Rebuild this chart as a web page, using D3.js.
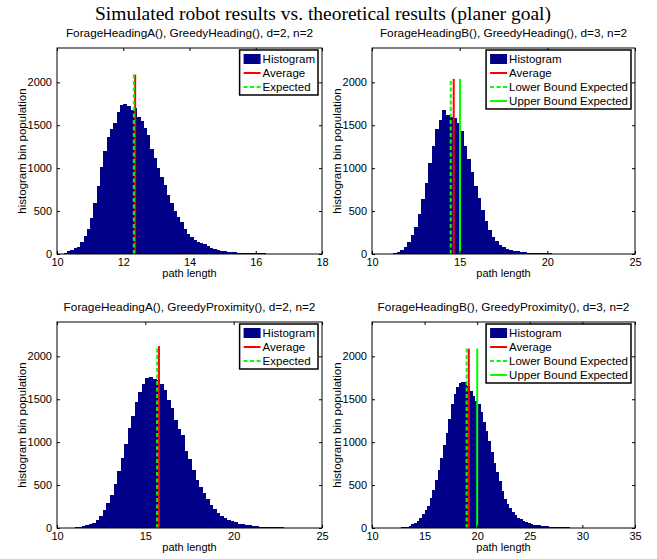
<!DOCTYPE html>
<html>
<head>
<meta charset="utf-8">
<script src="https://cdn.jsdelivr.net/npm/d3@7"></script>
<style>
  body { margin: 0; background: #fff; }
  svg { display: block; }
  text { font-family: "Liberation Sans", Arial, sans-serif; fill: #000; }
</style>
</head>
<body>
<svg id="fig" width="657" height="559"></svg>
<script>
// histogram bin counts, one array per panel
var p1Counts = [0,2,10,30,50,65,86,144,215,295, 420,595,790,1010,1200,1360,1460,1530,1650,1735,
  1745,1725,1675,1705,1595,1550,1470,1390,1220,1120, 1000,900,800,690,590,500,430,370,290,235,
  195,160,142,128,112,95,72,55,45,38, 33,28,24,20,17,15,13,12,10,9, 8,7,6,5,5,4,4,3,3,2];
var p1Start = 10.0, p1Step = 0.1;

var p2Counts = [2,10,18,42,80, 145,225,320,465,640, 830,1060,1260,1460,1560, 1680,1625,1600,1580,1530,
  1430,1260,1110,950,790, 650,510,390,275,195, 150,110,78,62,50, 38,30,23,18,14, 12,10,9,8,7, 6,4,2];
var p2Start = 11.0, p2Step = 0.2;

var p3Counts = [8,15,23,32,43, 62,95,140,210,290, 390,515,660,820,975, 1160,1300,1470,1590,1680,
  1745,1760,1740,1720,1680, 1610,1490,1400,1260,1150, 1080,900,800,680,565, 480,405,335,270,222,
  180,140,112,95,85, 68,52,45,38,32, 26,21,17,13,11, 9,8,7,6,5, 4,4,3,3,2, 2,1];
var p3Start = 11.0, p3Step = 0.2;

var p4Counts = [5,8,12,17,25,45,62,85, 120,160,210,262,345,445,560,670, 815,965,1110,1270,1440,1560,1640,1690,
  1705,1700,1660,1600,1540,1480,1440,1350, 1240,1130,1010,880,760,650,545,435, 340,280,230,185,148,122,100,82,
  66,55,46,40,35,31,27,24, 20,17,15,13,12,10,8,7, 6,5,4,3,3,2,2,1];
var p4Start = 12.5, p4Step = 0.25;

// vertical marker lines: x position and top value
var p1Lines = [{name: "Average", x: 12.36, top: 2090}, {name: "Expected", x: 12.32, top: 2090}];
var p2Lines = [{name: "Average", x: 14.66, top: 2040}, {name: "Lower Bound Expected", x: 14.49, top: 2040},
               {name: "Upper Bound Expected", x: 15.02, top: 2040}];
var p3Lines = [{name: "Average", x: 15.77, top: 2120}, {name: "Expected", x: 15.67, top: 2120}];
var p4Lines = [{name: "Average", x: 19.2, top: 2090}, {name: "Lower Bound Expected", x: 19.0, top: 2090},
               {name: "Upper Bound Expected", x: 20.0, top: 2090}];

var titles = ["ForageHeadingA(), GreedyHeading(), d=2, n=2",
              "ForageHeadingB(), GreedyHeading(), d=3, n=2",
              "ForageHeadingA(), GreedyProximity(), d=2, n=2",
              "ForageHeadingB(), GreedyProximity(), d=3, n=2"];
var xDomains = [[10, 18], [10, 25], [10, 25], [10, 35]];
var xTicks = [[10, 12, 14, 16, 18], [10, 15, 20, 25], [10, 15, 20, 25], [10, 15, 20, 25, 30, 35]];
var yTicks = [0, 500, 1000, 1500, 2000];
var yMax = 2400;

var navy = "#000088";
var styles = {
  "Average": {stroke: "#ff0000", dash: null},
  "Expected": {stroke: "#00ff00", dash: "4,2.5"},
  "Lower Bound Expected": {stroke: "#00ff00", dash: "4,2.5"},
  "Upper Bound Expected": {stroke: "#00ff00", dash: null}
};

var svg = d3.select("#fig");

svg.append("text")
  .attr("x", 323).attr("y", 20)
  .attr("text-anchor", "middle")
  .style("font-family", '"Liberation Serif", "Times New Roman", serif')
  .style("font-size", "19.5px")
  .text("Simulated robot results vs. theoretical results (planer goal)");

var panel = function(k, counts, start, step, lines, box) {
  var g = svg.append("g");
  var x = d3.scaleLinear().domain(xDomains[k]).range([box.l, box.r]);
  var y = d3.scaleLinear().domain([0, yMax]).range([box.b, box.t]);

  // bars (a hair wider than the bin so neighbours touch with no seam)
  g.selectAll("rect.bin")
    .data(counts)
    .enter()
    .append("rect")
    .attr("class", "bin")
    .attr("x", function(d, i) { return x(start + i * step); })
    .attr("width", function(d, i) { return x(start + (i + 1) * step) - x(start + i * step) + 0.7; })
    .attr("y", function(d) { return y(d); })
    .attr("height", function(d) { return y(0) - y(d); })
    .attr("fill", navy)
    .attr("shape-rendering", "crispEdges");

  // marker lines
  g.selectAll("line.mark")
    .data(lines)
    .enter()
    .append("line")
    .attr("x1", function(d) { return x(d.x); })
    .attr("x2", function(d) { return x(d.x); })
    .attr("y1", y(0))
    .attr("y2", function(d) { return y(d.top); })
    .attr("stroke", function(d) { return styles[d.name].stroke; })
    .attr("stroke-dasharray", function(d) { return styles[d.name].dash; })
    .attr("stroke-width", 2);

  // axes, ticks pointing inward on all four sides
  var fs = "11px";
  var ax = g.append("g").attr("transform", "translate(0," + box.b + ")")
    .call(d3.axisBottom(x).tickValues(xTicks[k]).tickSizeInner(-3).tickSizeOuter(0).tickPadding(4.5));
  var axT = g.append("g").attr("transform", "translate(0," + box.t + ")")
    .call(d3.axisTop(x).tickValues(xTicks[k]).tickSizeInner(-3).tickSizeOuter(0).tickFormat(""));
  var ay = g.append("g").attr("transform", "translate(" + box.l + ",0)")
    .call(d3.axisLeft(y).tickValues(yTicks).tickFormat(d3.format("d")).tickSizeInner(-3).tickSizeOuter(0).tickPadding(5));
  var ayR = g.append("g").attr("transform", "translate(" + box.r + ",0)")
    .call(d3.axisRight(y).tickValues(yTicks).tickSizeInner(-3).tickSizeOuter(0).tickFormat(""));
  [ax, axT, ay, ayR].forEach(function(a) {
    a.select(".domain").remove();
    a.selectAll("text").style("font-family", '"Liberation Sans", Arial, sans-serif').style("font-size", fs);
    a.selectAll("line").attr("stroke", "#000");
  });

  g.append("rect")
    .attr("x", box.l).attr("y", box.t)
    .attr("width", box.r - box.l).attr("height", box.b - box.t)
    .attr("fill", "none").attr("stroke", "#000").attr("stroke-width", 1);

  g.append("text")
    .attr("x", (box.l + box.r) / 2).attr("y", box.t - 11)
    .attr("text-anchor", "middle").style("font-size", "11.8px")
    .text(titles[k]);

  g.append("text")
    .attr("x", (box.l + box.r) / 2).attr("y", box.b + 23)
    .attr("text-anchor", "middle").style("font-size", "11px")
    .text("path length");

  g.append("text")
    .attr("transform", "translate(" + (box.l - 31) + "," + ((box.t + box.b) / 2) + ") rotate(-90)")
    .attr("text-anchor", "middle").style("font-size", "11.5px")
    .text("histogram bin population");

  // legend
  var names = ["Histogram"].concat(lines.map(function(d) { return d.name; }));
  var leg = g.append("g");
  var frame = leg.append("rect");
  var items = leg.selectAll("g.item")
    .data(names)
    .enter()
    .append("g")
    .attr("class", "item")
    .attr("transform", function(d, i) { return "translate(0," + (9 + i * 14) + ")"; });
  items.append("text")
    .attr("x", 23).attr("dy", "0.36em")
    .style("font-size", "11.5px")
    .text(function(d) { return d; });
  items.each(function(d, i) {
    var it = d3.select(this);
    if (i == 0) {
      it.append("rect").attr("x", 4).attr("y", -5).attr("width", 17).attr("height", 10).attr("fill", navy);
    } else {
      it.append("line").attr("x1", 4).attr("x2", 21).attr("y1", 0).attr("y2", 0)
        .attr("stroke", styles[d].stroke)
        .attr("stroke-dasharray", styles[d].dash)
        .attr("stroke-width", 2);
    }
  });
  var tw = d3.max(items.selectAll("text").nodes(), function(n) { return n.getComputedTextLength(); });
  var lw = 23 + tw + 3, lh = names.length * 14 + 3;
  frame.attr("width", lw).attr("height", lh)
    .attr("fill", "#fff").attr("stroke", "#000").attr("stroke-width", 1.5);
  leg.attr("transform", "translate(" + (box.r - 4 - lw) + "," + (box.t + 2) + ")");
};

panel(0, p1Counts, p1Start, p1Step, p1Lines, {l: 57, r: 322, t: 48, b: 254});
panel(1, p2Counts, p2Start, p2Step, p2Lines, {l: 372, r: 635, t: 48, b: 254});
panel(2, p3Counts, p3Start, p3Step, p3Lines, {l: 57, r: 322, t: 322, b: 528});
panel(3, p4Counts, p4Start, p4Step, p4Lines, {l: 372, r: 635, t: 322, b: 528});
</script>
</body>
</html>
